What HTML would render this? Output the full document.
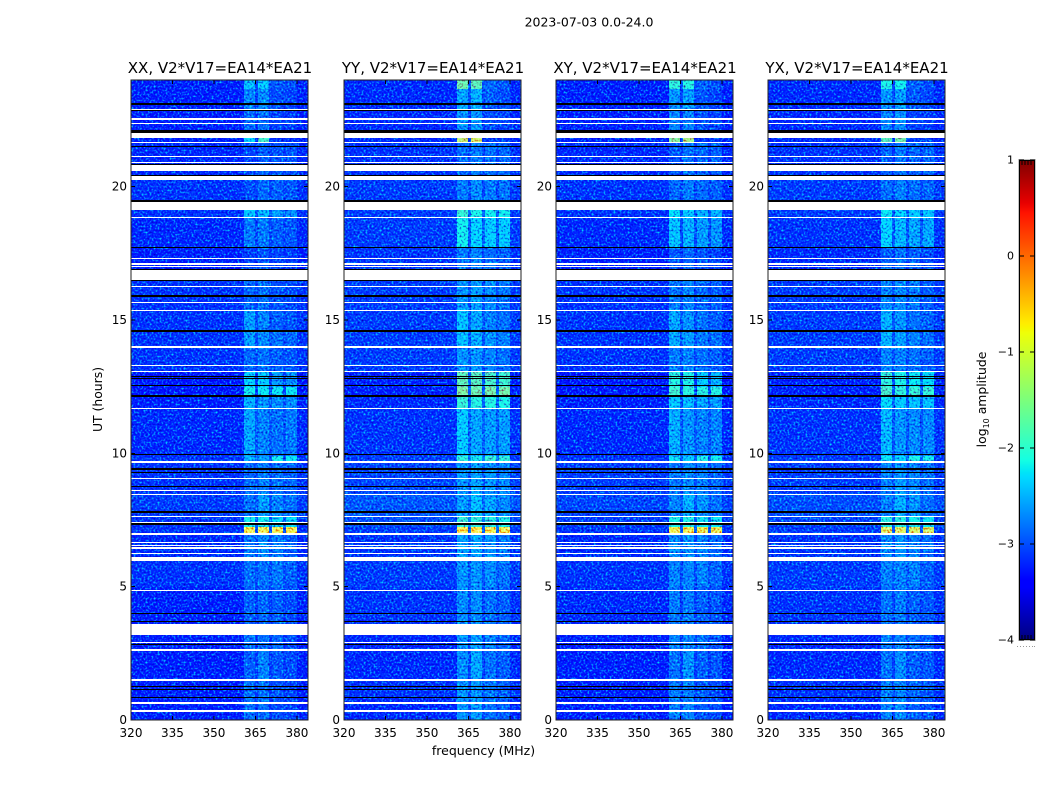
<!DOCTYPE html>
<html lang="en">
<head>
<meta charset="utf-8">
<title>2023-07-03 0.0-24.0</title>
<style>
html,body{margin:0;padding:0;background:#fff;}
svg{display:block;}
text{font-family:"DejaVu Sans","Liberation Sans",sans-serif;fill:#000;}
</style>
</head>
<body>
<svg id="fig" xmlns="http://www.w3.org/2000/svg" width="1050" height="800" viewBox="0 0 1050 800">
  <defs>
    <filter id="speckle" x="0" y="0" width="100%" height="100%" color-interpolation-filters="sRGB">
      <feTurbulence type="fractalNoise" baseFrequency="0.5" numOctaves="2" seed="7"/>
      <feColorMatrix type="matrix" values="0 0 0 0 0.5  1.5 0 0 0 -0.25  1.0 0 0 0 0.16  0 0 0 0 1"/>
    </filter>
  </defs>
  <text x="589" y="26.5" font-size="12.5" text-anchor="middle">2023-07-03 0.0-24.0</text>
  <text x="483.5" y="755" font-size="12.5" text-anchor="middle">frequency (MHz)</text>
  <text x="0" y="0" font-size="12.4" text-anchor="middle" transform="translate(102,399.5) rotate(-90)">UT (hours)</text>
  <text x="0" y="0" font-size="12.4" text-anchor="middle" transform="translate(986,399.5) rotate(-90)">log<tspan font-size="8" dy="3">10</tspan><tspan dy="-3"> amplitude</tspan></text>
  <g id="panels"></g>
  <g id="colorbar"></g>
</svg>
<script>
// ---- chart data ----
const panelTitles = ["XX, V2*V17=EA14*EA21", "YY, V2*V17=EA14*EA21", "XY, V2*V17=EA14*EA21", "YX, V2*V17=EA14*EA21"];
const xTicks = [320, 335, 350, 365, 380];
const yTicks = [0, 5, 10, 15, 20];
const colorbarTicks = [1, 0, -1, -2, -3, -4];
// frequency cell edges (MHz) and which level in a row each cell reads: 0 bg, 1-4 sub-bands, 5 gap
const freqEdges = [320, 361, 365, 366, 370, 371, 375, 376, 380, 384];
const freqLevelIndex = [0, 1, 5, 2, 5, 3, 5, 4, 0];
// time segment edges (hours UT)
const timeEdges = [0, 0.85, 1.5, 2.6, 3.6, 5, 6.1, 6.94, 7.25, 7.6, 8.5, 9.7, 9.9, 11.7, 12.15, 12.5, 13.1, 14, 14.6, 15.4, 16.5, 17.7, 18.85, 19.4, 20.3, 21.68, 21.83, 22.9, 23.65, 24];
// log10 amplitude per time segment: [bg, s1, s2, s3, s4, gap]
const levelsXX = [
[-3.3,-2.85,-2.85,-3.05,-3.1,-3.15],[-3.3,-2.85,-2.85,-3.0,-3.1,-3.15],[-3.3,-2.95,-2.75,-3.0,-3.05,-3.15],[-3.3,-2.85,-2.85,-2.9,-3.05,-3.15],
[-3.3,-2.95,-2.9,-2.95,-3.05,-3.15],[-3.2,-2.85,-2.85,-2.8,-2.95,-3.05],[-3.25,-2.8,-2.7,-2.8,-2.95,-3.05],[-3.2,-0.8,-0.8,-0.8,-0.8,-3.0],
[-3.2,-2.15,-2.15,-2.25,-2.25,-2.95],[-3.15,-2.85,-2.6,-2.75,-2.85,-3.0],[-3.2,-2.9,-2.8,-2.85,-2.95,-3.05],[-3.2,-2.5,-2.6,-2.15,-2.2,-2.95],
[-3.25,-2.55,-2.75,-2.85,-2.8,-3.0],[-3.3,-2.5,-2.65,-2.7,-2.7,-3.0],[-3.35,-2.15,-2.2,-2.2,-2.2,-3.1],[-3.35,-2.3,-2.35,-2.6,-2.7,-3.1],
[-3.2,-2.9,-2.85,-2.95,-3.0,-3.05],[-3.2,-2.6,-2.7,-2.85,-2.9,-3.05],[-3.2,-2.6,-2.75,-2.95,-3.0,-3.05],[-3.2,-2.9,-2.85,-3.0,-3.05,-3.1],
[-3.3,-3.1,-3.0,-3.1,-3.15,-3.2],[-3.25,-2.8,-2.8,-2.95,-3.0,-3.1],[-3.2,-2.4,-2.45,-2.6,-2.7,-3.0],[-3.2,-3.05,-2.9,-2.95,-3.0,-3.1],
[-3.25,-3.1,-2.95,-3.0,-3.0,-3.15],[-3.3,-2.3,-1.85,-3.2,-3.2,-3.2],[-3.3,-2.9,-2.85,-3.1,-3.15,-3.2],[-3.3,-2.75,-2.7,-3.05,-3.1,-3.1],[-3.3,-2.4,-2.35,-3.0,-3.05,-3.05]
];
const levelsYY = [
[-3.25,-2.65,-2.6,-2.85,-2.95,-3.05],[-3.2,-2.65,-2.65,-2.8,-2.95,-3.05],[-3.25,-2.7,-2.55,-2.85,-2.95,-3.1],[-3.25,-2.65,-2.6,-2.75,-2.9,-3.05],
[-3.2,-2.7,-2.7,-2.85,-2.95,-3.1],[-3.15,-2.65,-2.65,-2.7,-2.85,-3.0],[-3.2,-2.6,-2.55,-2.65,-2.8,-3.05],[-3.15,-0.75,-0.75,-0.8,-0.8,-2.9],
[-3.05,-1.95,-2.0,-2.05,-2.1,-2.8],[-3.0,-2.6,-2.4,-2.55,-2.7,-2.9],[-3.1,-2.65,-2.55,-2.65,-2.75,-3.0],[-3.15,-2.0,-2.15,-1.95,-2.0,-2.8],
[-3.2,-2.35,-2.55,-2.6,-2.6,-2.95],[-3.25,-1.95,-2.05,-2.05,-2.1,-2.9],[-3.3,-1.5,-1.6,-1.55,-1.55,-2.95],[-3.3,-1.7,-1.75,-1.85,-1.9,-2.95],
[-3.15,-2.65,-2.65,-2.75,-2.85,-3.0],[-3.15,-2.4,-2.5,-2.65,-2.75,-3.0],[-3.15,-2.4,-2.55,-2.75,-2.85,-3.0],[-3.15,-2.65,-2.6,-2.7,-2.8,-3.05],
[-3.2,-2.8,-2.75,-2.85,-2.95,-3.1],[-3.15,-2.15,-2.3,-2.35,-2.35,-2.95],[-3.15,-1.95,-2.1,-2.15,-2.15,-2.9],[-3.15,-2.8,-2.7,-2.8,-2.85,-3.1],
[-3.2,-2.9,-2.8,-2.85,-2.9,-3.1],[-3.25,-1.1,-1.0,-3.15,-3.15,-3.15],[-3.25,-2.65,-2.65,-3.05,-3.1,-3.15],[-3.25,-2.55,-2.5,-2.95,-3.05,-3.05],[-3.25,-1.6,-1.7,-2.9,-3.0,-3.0]
];
const levelsXY = [
[-3.3,-2.75,-2.75,-3.0,-3.05,-3.1],[-3.3,-2.8,-2.8,-2.95,-3.05,-3.1],[-3.3,-2.85,-2.65,-2.95,-3.0,-3.15],[-3.3,-2.75,-2.75,-2.85,-3.0,-3.1],
[-3.25,-2.8,-2.8,-2.95,-3.0,-3.15],[-3.2,-2.75,-2.75,-2.75,-2.9,-3.05],[-3.25,-2.7,-2.65,-2.75,-2.9,-3.05],[-3.2,-0.8,-0.8,-0.85,-0.85,-3.0],
[-3.15,-2.1,-2.1,-2.2,-2.2,-2.95],[-3.1,-2.75,-2.5,-2.65,-2.85,-3.0],[-3.15,-2.8,-2.7,-2.75,-2.9,-3.05],[-3.2,-2.2,-2.35,-2.1,-2.15,-2.95],
[-3.25,-2.5,-2.65,-2.75,-2.75,-3.0],[-3.3,-2.35,-2.45,-2.55,-2.6,-3.0],[-3.35,-1.9,-2.0,-2.05,-2.05,-3.1],[-3.35,-2.05,-2.1,-2.35,-2.45,-3.1],
[-3.2,-2.8,-2.75,-2.85,-2.95,-3.05],[-3.2,-2.55,-2.6,-2.8,-2.85,-3.05],[-3.2,-2.55,-2.65,-2.85,-2.95,-3.05],[-3.2,-2.8,-2.75,-2.9,-2.95,-3.1],
[-3.3,-3.0,-2.9,-3.0,-3.1,-3.2],[-3.25,-2.4,-2.5,-2.6,-2.65,-3.05],[-3.2,-2.25,-2.35,-2.45,-2.5,-3.0],[-3.2,-2.9,-2.8,-2.9,-2.95,-3.1],
[-3.25,-3.0,-2.85,-2.9,-2.95,-3.15],[-3.3,-1.45,-1.25,-3.2,-3.2,-3.2],[-3.3,-2.75,-2.75,-3.05,-3.1,-3.2],[-3.3,-2.65,-2.6,-3.0,-3.1,-3.1],[-3.3,-2.0,-2.05,-2.95,-3.05,-3.05]
];
const levelsYX = [
[-3.25,-2.75,-2.7,-2.95,-3.0,-3.1],[-3.2,-2.75,-2.75,-2.9,-3.0,-3.05],[-3.25,-2.85,-2.7,-2.95,-3.0,-3.1],[-3.25,-2.75,-2.75,-2.85,-2.95,-3.05],
[-3.2,-2.85,-2.8,-2.95,-3.0,-3.1],[-3.15,-2.75,-2.75,-2.75,-2.95,-3.0],[-3.2,-2.7,-2.65,-2.75,-2.9,-3.05],[-3.15,-0.9,-0.9,-0.95,-0.95,-2.95],
[-3.1,-2.05,-2.05,-2.15,-2.2,-2.85],[-3.05,-2.75,-2.5,-2.65,-2.85,-2.95],[-3.15,-2.75,-2.65,-2.75,-2.85,-3.0],[-3.15,-2.2,-2.3,-2.1,-2.15,-2.85],
[-3.2,-2.45,-2.65,-2.7,-2.7,-3.0],[-3.25,-2.25,-2.35,-2.4,-2.4,-2.95],[-3.3,-1.85,-2.0,-1.95,-1.95,-3.0],[-3.3,-2.0,-2.1,-2.2,-2.25,-3.0],
[-3.15,-2.75,-2.75,-2.85,-2.95,-3.05],[-3.15,-2.5,-2.6,-2.75,-2.85,-3.0],[-3.15,-2.5,-2.65,-2.85,-2.95,-3.0],[-3.15,-2.75,-2.7,-2.8,-2.95,-3.05],
[-3.25,-2.95,-2.85,-2.95,-3.05,-3.15],[-3.2,-2.3,-2.45,-2.55,-2.55,-3.0],[-3.15,-2.2,-2.3,-2.35,-2.4,-2.95],[-3.15,-2.85,-2.75,-2.85,-2.9,-3.1],
[-3.2,-2.95,-2.8,-2.9,-2.9,-3.15],[-3.25,-1.75,-1.6,-3.15,-3.15,-3.15],[-3.25,-2.75,-2.7,-3.1,-3.15,-3.15],[-3.25,-2.65,-2.6,-3.0,-3.1,-3.05],[-3.25,-2.1,-2.15,-2.95,-3.05,-3.05]
];
const panelLevels = [levelsXX, levelsYY, levelsXY, levelsYX];
// flagged time ranges (hours UT): blank (white) and zero-valued (black)
const whiteBands = [[0.31,0.39],[0.60,0.66],[1.46,1.54],[2.59,2.66],[2.89,2.94],[3.19,3.60],[4.84,4.88],[5.96,6.12],[6.22,6.26],[6.41,6.49],[6.54,6.58],[6.62,6.68],[6.94,7.0],[7.39,7.43],[7.61,7.65],[8.44,8.48],[8.59,8.63],[9.04,9.08],[9.64,9.71],[11.66,11.70],[13.05,13.09],[13.28,13.31],[13.95,14.04],[15.34,15.38],[15.62,15.69],[16.24,16.28],[16.5,16.88],[16.97,17.03],[17.08,17.14],[17.29,17.33],[18.83,18.87],[19.13,19.41],[20.25,20.39],[20.59,20.8],[20.89,20.92],[21.11,21.15],[21.64,21.68],[21.83,22.03],[22.35,22.39],[22.5,22.56],[22.87,22.91]];
const blackBands = [[0.81,0.85],[1.11,1.15],[1.24,1.28],[2.8,2.84],[3.66,3.7],[3.96,4.0],[7.33,7.37],[7.78,7.82],[8.74,8.78],[9.25,9.29],[9.39,9.45],[9.92,9.96],[12.13,12.17],[12.51,12.55],[12.79,12.83],[12.86,12.9],[14.55,14.62],[15.88,15.94],[16.47,16.5],[16.88,16.92],[17.7,17.74],[19.41,19.5],[20.39,20.44],[20.8,20.84],[21.47,21.53],[22.03,22.13],[22.84,22.87],[23.08,23.14]];

// ---- layout ----
const SVGNS = "http://www.w3.org/2000/svg";
const panelLeft = [131, 344, 556, 768];
const panelWidth = 177;
const plotTop = 80;
const plotBottom = 720;
const cbLeft = 1019, cbRight = 1035, cbTop = 160, cbBottom = 640;

function xScale(left, f) { return left + (f - 320) * panelWidth / 64; }
function yScale(h) { return plotBottom - h * (plotBottom - plotTop) / 24; }
function cbScale(v) { return cbBottom - (v + 4) * (cbBottom - cbTop) / 5; }

function interp(t, pts) {
  for (let i = 1; i < pts.length; i++) {
    if (t <= pts[i][0]) {
      const a = pts[i - 1], b = pts[i];
      return a[1] + (b[1] - a[1]) * (t - a[0]) / (b[0] - a[0]);
    }
  }
  return pts[pts.length - 1][1];
}
function jet(t) {
  t = Math.max(0, Math.min(1, t));
  const r = interp(t, [[0,0],[0.35,0],[0.66,1],[0.89,1],[1,0.5]]);
  const g = interp(t, [[0,0],[0.125,0],[0.375,1],[0.64,1],[0.91,0],[1,0]]);
  const b = interp(t, [[0,0.5],[0.11,1],[0.34,1],[0.65,0],[1,0]]);
  return "rgb(" + Math.round(r * 255) + "," + Math.round(g * 255) + "," + Math.round(b * 255) + ")";
}
function levelColor(v) { return jet((v + 4) / 5); }

function make(tag, attrs, parent) {
  const el = document.createElementNS(SVGNS, tag);
  for (const k in attrs) el.setAttribute(k, attrs[k]);
  parent.appendChild(el);
  return el;
}

const panelsRoot = document.getElementById("panels");
panelLeft.forEach(function (left, p) {
  const g = make("g", { style: "isolation:isolate" }, panelsRoot);
  
  
  const right = left + panelWidth;

  const levels = panelLevels[p];
  levels.forEach(function (row, r) {
    const y0 = Math.round(yScale(timeEdges[r + 1]));
    const y1 = Math.round(yScale(timeEdges[r]));
    for (let c = 0; c < freqLevelIndex.length; c++) {
      const x0 = Math.round(xScale(left, freqEdges[c]));
      const x1 = Math.round(xScale(left, freqEdges[c + 1]));
      const cell = make("rect", { x: x0, y: y0, width: x1 - x0, height: y1 - y0, fill: levelColor(row[freqLevelIndex[c]]), "shape-rendering": "crispEdges" }, g);
      
      
    }
  });

  const tex = make("rect", { x: left, y: plotTop, width: panelWidth, height: plotBottom - plotTop, fill: "#808080", filter: "url(#speckle)", opacity: "0.85", style: "mix-blend-mode:hard-light" }, g);
  
  

  whiteBands.forEach(function (b) {
    const y0 = Math.round(yScale(b[1]));
    const y1 = Math.round(yScale(b[0]));
    const band = make("rect", { x: left, y: y0, width: panelWidth, height: Math.max(1, y1 - y0), fill: "#fff", "shape-rendering": "crispEdges" }, g);
    
    
  });
  blackBands.forEach(function (b) {
    const y0 = Math.round(yScale(b[1]));
    const y1 = Math.round(yScale(b[0]));
    const band = make("rect", { x: left, y: y0, width: panelWidth, height: Math.max(1, y1 - y0), fill: "#000", "shape-rendering": "crispEdges" }, g);
    
    
  });

  xTicks.forEach(function (t) {
    const x = xScale(left, t);
    const tb = make("line", { x1: x, x2: x, y1: plotBottom, y2: plotBottom - 4, stroke: "#000", "stroke-width": 1, "shape-rendering": "crispEdges" }, g);
    
    
    const tt = make("line", { x1: x, x2: x, y1: plotTop, y2: plotTop + 4, stroke: "#000", "stroke-width": 1, "shape-rendering": "crispEdges" }, g);
    
    
    const lab = make("text", { x: x, y: 737, "font-size": 12, "text-anchor": "middle" }, g);
    
    
    lab.textContent = String(t);
  });
  yTicks.forEach(function (t) {
    const y = yScale(t);
    const tl = make("line", { x1: left, x2: left + 4, y1: y, y2: y, stroke: "#000", "stroke-width": 1, "shape-rendering": "crispEdges" }, g);
    
    
    const tr = make("line", { x1: right, x2: right - 4, y1: y, y2: y, stroke: "#000", "stroke-width": 1, "shape-rendering": "crispEdges" }, g);
    
    
    const lab = make("text", { x: left - 4, y: y + 4, "font-size": 12, "text-anchor": "end" }, g);
    
    
    lab.textContent = String(t);
  });

  const frame = make("rect", { x: left, y: plotTop, width: panelWidth, height: plotBottom - plotTop, fill: "none", stroke: "#222", "stroke-width": 1, "shape-rendering": "crispEdges" }, g);
  
  

  const title = make("text", { x: left + panelWidth / 2 + 0.5, y: 73, "font-size": 15, "text-anchor": "middle" }, g);
  
  
  title.textContent = panelTitles[p];
});

// ---- colorbar ----
const cb = document.getElementById("colorbar");
for (let y = cbTop; y < cbBottom; y++) {
  const v = 1 - (y + 0.5 - cbTop) * 5 / (cbBottom - cbTop);
  const strip = make("rect", { x: cbLeft, y: y, width: cbRight - cbLeft, height: 1, fill: levelColor(v), "shape-rendering": "crispEdges" }, cb);
  
  
}
const cbHalo = make("rect", { x: cbLeft - 0.5, y: cbTop - 0.5, width: cbRight - cbLeft + 1, height: cbBottom - cbTop + 1, fill: "none", stroke: "#c4c4c4", "stroke-width": 1, "shape-rendering": "crispEdges" }, cb);


const cbFrame = make("rect", { x: cbLeft + 0.5, y: cbTop + 0.5, width: cbRight - cbLeft - 1, height: cbBottom - cbTop - 1, fill: "none", stroke: "#000", "stroke-width": 1, "shape-rendering": "crispEdges" }, cb);


colorbarTicks.forEach(function (t) {
  const y = cbScale(t);
  const a = make("line", { x1: cbLeft, x2: cbLeft + 5, y1: y, y2: y, stroke: "#000", "stroke-width": 1, "shape-rendering": "crispEdges" }, cb);
  
  
  const b = make("line", { x1: cbRight, x2: cbRight - 5, y1: y, y2: y, stroke: "#000", "stroke-width": 1, "shape-rendering": "crispEdges" }, cb);
  
  
  const lab = make("text", { x: 1014, y: y + 3.5, "font-size": 11, "text-anchor": "end" }, cb);
  
  
  lab.textContent = (t < 0 ? "\u2212" : "") + Math.abs(t);
});
[1022, 1025, 1028, 1031].forEach(function (x) {
  const top = make("line", { x1: x, x2: x, y1: cbTop, y2: cbTop + 5, stroke: "#000", "stroke-width": 1, "shape-rendering": "crispEdges" }, cb);
  
  
  const bot = make("line", { x1: x, x2: x, y1: cbBottom, y2: cbBottom - 5, stroke: "#000", "stroke-width": 1, "shape-rendering": "crispEdges" }, cb);
  
  
});
[1017, 1020, 1023, 1026, 1029, 1032, 1034].forEach(function (x) {
  const dot = make("rect", { x: x, y: 646, width: 1, height: 1, fill: "#999", "shape-rendering": "crispEdges" }, cb);
  
  
});
</script>
</body>
</html>
